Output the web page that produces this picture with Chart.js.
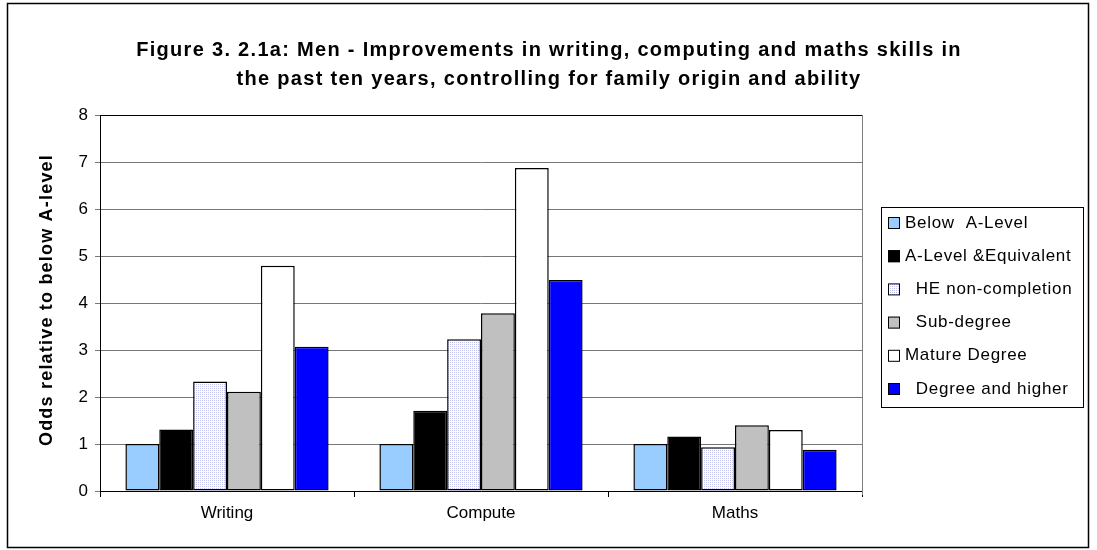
<!DOCTYPE html>
<html>
<head>
<meta charset="utf-8">
<script src="https://cdn.jsdelivr.net/npm/chart.js@4/dist/chart.umd.min.js"></script>
<style>
  html, body { margin: 0; padding: 0; background: #fff; }
  #wrap { position: relative; width: 1097px; height: 550px; }
</style>
</head>
<body>
<div id="wrap"><canvas id="chart" width="1097" height="550"></canvas></div>
<script>
// Dados
const categories = ['Writing', 'Compute', 'Maths'];
const seriesLabels = ['Below  A-Level', 'A-Level &Equivalent', '  HE non-completion', '  Sub-degree', 'Mature Degree', '  Degree and higher'];
const belowALevel = [1.0, 1.0, 1.0];
const aLevel = [1.31, 1.71, 1.16];
const heNonCompletion = [2.33, 3.23, 0.93];
const subDegree = [2.11, 3.78, 1.40];
const matureDegree = [4.79, 6.87, 1.30];
const degreeHigher = [3.07, 4.49, 0.88];
const yTicks = [0, 1, 2, 3, 4, 5, 6, 7, 8];
const titleLines = ['Figure 3. 2.1a: Men - Improvements in writing, computing and maths skills in',
                    'the past ten years, controlling for family origin and ability'];
const yTitle = 'Odds relative to below A-level';

const FONT = '"Liberation Sans", Arial, sans-serif';

// Padrão pontilhado para HE non-completion
function dotPattern() {
    const c = document.createElement('canvas');
    c.width = 2; c.height = 2;
    const g = c.getContext('2d');
    g.fillStyle = '#ffffff';
    g.fillRect(0, 0, 2, 2);
    g.fillStyle = '#c4c4f0';
    g.fillRect(0, 0, 1, 1);
    return g.createPattern(c, 'repeat');
}
const hePattern = dotPattern();

const seriesValues = [belowALevel, aLevel, heNonCompletion, subDegree, matureDegree, degreeHigher];
const seriesColors = ['#99ccff', '#000000', hePattern, '#c0c0c0', '#ffffff', '#0000ff'];

// Título, título do eixo Y, molduras e legenda
const framePlugin = {
    id: 'frame',
    afterDraw(chart) {
        const ctx = chart.ctx;
        const a = chart.chartArea;
        ctx.save();
        // moldura externa
        ctx.strokeStyle = '#000';
        ctx.lineWidth = 1.5;
        ctx.strokeRect(7.5, 3.5, 1081, 544);
        // topo e direita da área
        ctx.lineWidth = 1;
        ctx.beginPath();
        ctx.moveTo(a.left, a.top + 0.5);
        ctx.lineTo(a.right, a.top + 0.5);
        ctx.stroke();
        ctx.strokeStyle = '#808080';
        ctx.beginPath();
        ctx.moveTo(a.right + 0.5, a.top);
        ctx.lineTo(a.right + 0.5, a.bottom + 4);
        ctx.stroke();

        // título
        ctx.fillStyle = '#000';
        ctx.textAlign = 'center';
        ctx.textBaseline = 'middle';
        ctx.font = 'bold 20px ' + FONT;
        ctx.letterSpacing = '1.3px';
        titleLines.forEach((t, i) => ctx.fillText(t, 549, 50 + i * 29));

        // título do eixo Y
        ctx.font = 'bold 18px ' + FONT;
        ctx.letterSpacing = '1.2px';
        ctx.save();
        ctx.translate(47, 300);
        ctx.rotate(-Math.PI / 2);
        ctx.fillText(yTitle, 0, 0);
        ctx.restore();

        // legenda
        const lx = 881, ly = 207, lw = 202, lh = 200;
        ctx.fillStyle = '#fff';
        ctx.fillRect(lx, ly, lw, lh);
        ctx.strokeStyle = '#000';
        ctx.lineWidth = 1;
        ctx.strokeRect(lx + 0.5, ly + 0.5, lw, lh);
        ctx.font = '17px ' + FONT;
        ctx.letterSpacing = '0.7px';
        ctx.textBaseline = 'middle';
        ctx.textAlign = 'left';
        chart.data.datasets.forEach((ds, i) => {
            const cy = 223 + i * 33.2;
            ctx.fillStyle = ds.backgroundColor;
            ctx.fillRect(888, cy - 6, 12, 12);
            ctx.strokeStyle = '#000';
            ctx.lineWidth = 1;
            ctx.strokeRect(888.5, cy - 5.5, 11, 11);
            ctx.fillStyle = '#000';
            ctx.fillText(ds.label, 905, cy);
        });
        ctx.letterSpacing = '0px';
        ctx.restore();
    }
};

new Chart(document.getElementById('chart'), {
    type: 'bar',
    data: {
        labels: categories,
        datasets: seriesValues.map((vals, i) => ({
            label: seriesLabels[i],
            data: vals,
            backgroundColor: seriesColors[i],
            borderColor: '#000',
            borderWidth: 1.5,
            borderSkipped: false,
            categoryPercentage: 0.8,
            barPercentage: 1.0
        }))
    },
    options: {
        responsive: false,
        animation: false,
        layout: { padding: { top: 115, right: 235, bottom: 0, left: 0 } },
        plugins: {
            legend: { display: false },
            tooltip: { enabled: false },
            title: { display: false }
        },
        scales: {
            x: {
                afterFit(scale) { scale.height = 59; },
                grid: { offset: true, drawOnChartArea: false, color: '#000', tickLength: 6 },
                border: { color: '#000', width: 1 },
                ticks: { color: '#000', font: { family: FONT, size: 17 }, padding: 6 }
            },
            y: {
                min: 0,
                max: 8,
                afterFit(scale) { scale.width = 100; },
                afterBuildTicks(scale) { scale.ticks = yTicks.map(v => ({ value: v })); },
                grid: { color: '#777', tickLength: 5 },
                border: { color: '#000', width: 1 },
                ticks: { color: '#000', font: { family: FONT, size: 17 }, padding: 7 }
            }
        }
    },
    plugins: [framePlugin]
});
</script>
</body>
</html>
